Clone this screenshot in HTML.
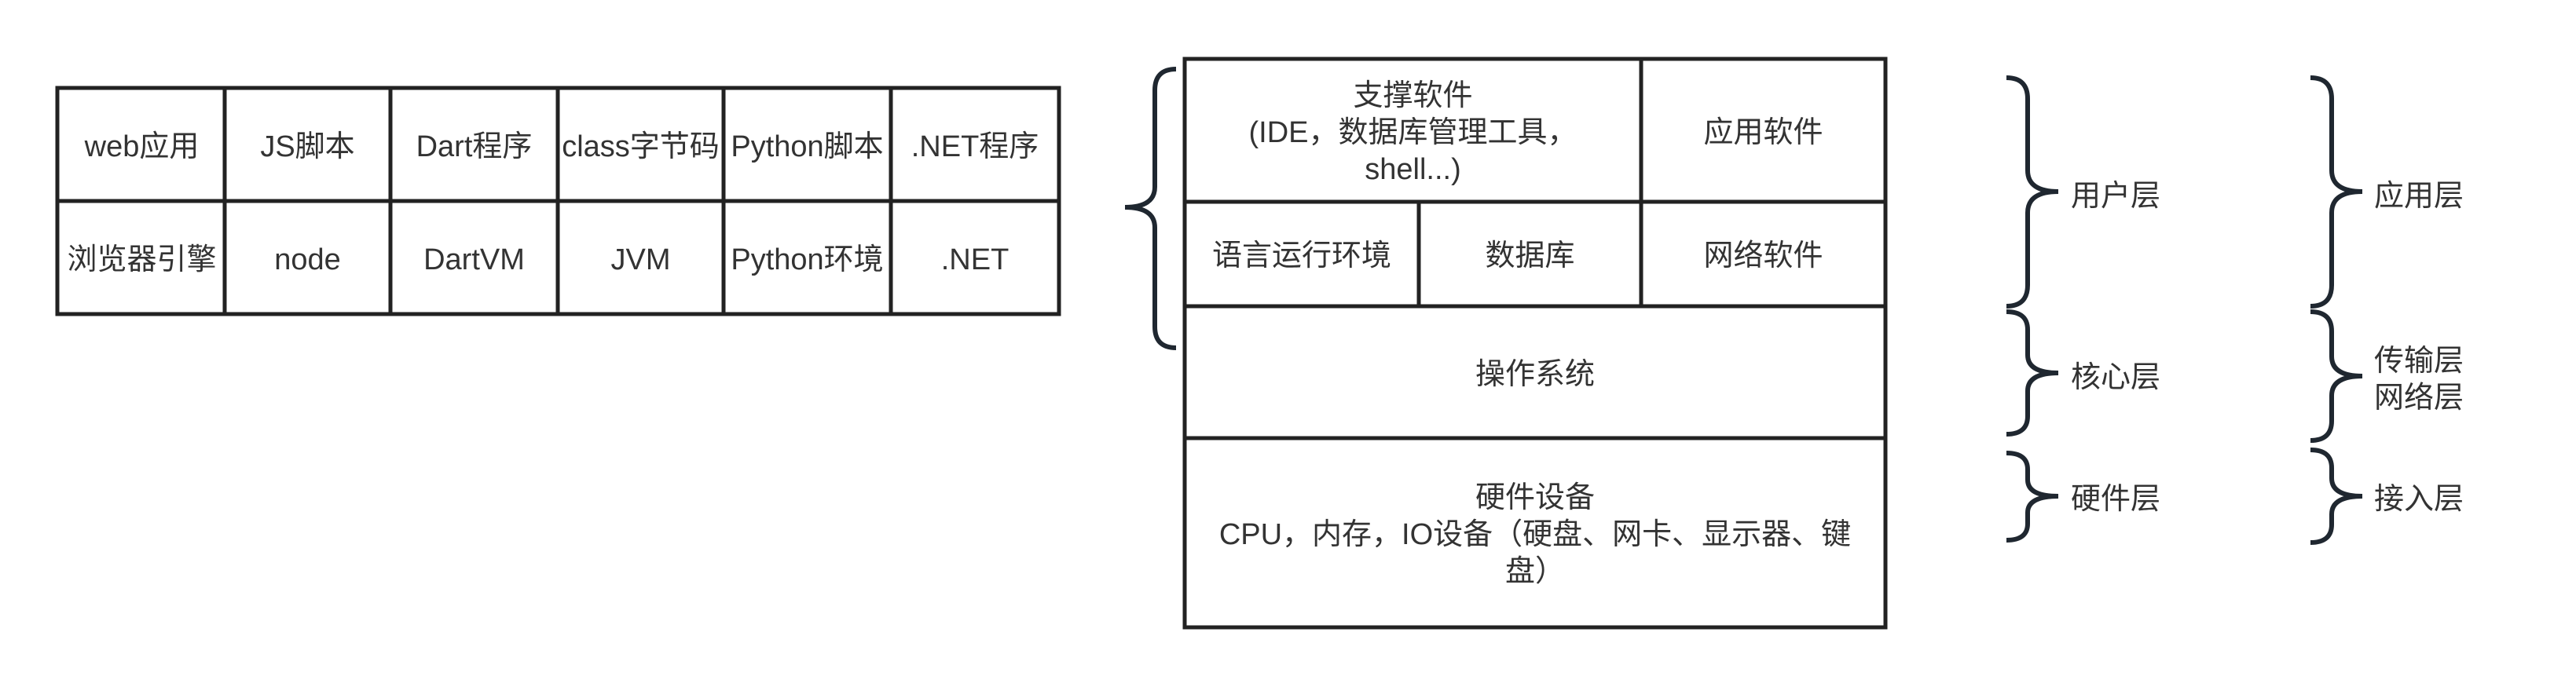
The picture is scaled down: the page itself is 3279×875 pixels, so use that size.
<!DOCTYPE html>
<html><head><meta charset="utf-8"><style>
html,body{margin:0;padding:0;background:#fff;}
#c{position:relative;width:3279px;height:875px;overflow:hidden;background:#fff;}
.t{position:absolute;display:flex;align-items:center;justify-content:center;text-align:center;font-family:"Liberation Sans","Noto Sans CJK SC",sans-serif;font-size:38px;color:#333;line-height:47px;padding-top:6px;box-sizing:border-box;}
svg{position:absolute;left:0;top:0;}
</style></head><body><div id="c">
<svg width="3279" height="875" viewBox="0 0 3279 875">
<g stroke="#222" stroke-width="5" fill="none">
<rect x="73" y="112" width="1275" height="288"/>
<line x1="73" y1="256" x2="1348" y2="256"/>
<line x1="286" y1="112" x2="286" y2="400"/>
<line x1="497" y1="112" x2="497" y2="400"/>
<line x1="710" y1="112" x2="710" y2="400"/>
<line x1="921" y1="112" x2="921" y2="400"/>
<line x1="1134" y1="112" x2="1134" y2="400"/>
<rect x="1508" y="75" width="892" height="724"/>
<line x1="1508" y1="257" x2="2400" y2="257"/>
<line x1="1508" y1="390" x2="2400" y2="390"/>
<line x1="1508" y1="558" x2="2400" y2="558"/>
<line x1="2089" y1="75" x2="2089" y2="390"/>
<line x1="1806" y1="257" x2="1806" y2="390"/>
</g>
<g stroke="#1f2730" stroke-width="6" fill="none" stroke-linecap="butt">
<path d="M1497 88 Q1470 88 1470 115 L1470 238 Q1470 264 1432 264 Q1470 264 1470 290 L1470 416 Q1470 443 1497 443"/>
<path d="M2554 99 Q2581 99 2581 126 L2581 217 Q2581 244 2620 244 Q2581 244 2581 271 L2581 363 Q2581 390 2554 390"/>
<path d="M2554 397 Q2581 397 2581 420 L2581 452 Q2581 475 2620 475 Q2581 475 2581 498 L2581 530 Q2581 553 2554 553"/>
<path d="M2554 577 Q2581 577 2581 598 L2581 611 Q2581 632 2620 632 Q2581 632 2581 653 L2581 667 Q2581 688 2554 688"/>
<path d="M2941 99 Q2968 99 2968 126 L2968 217 Q2968 244 3007 244 Q2968 244 2968 271 L2968 363 Q2968 390 2941 390"/>
<path d="M2941 397 Q2968 397 2968 422 L2968 454 Q2968 479 3007 479 Q2968 479 2968 504 L2968 536 Q2968 561 2941 561"/>
<path d="M2941 573 Q2968 573 2968 596 L2968 609 Q2968 632 3007 632 Q2968 632 2968 655 L2968 668 Q2968 691 2941 691"/>
</g>
</svg>
<div class="t" style="left:75px;top:112px;width:211px;height:144px">web应用</div>
<div class="t" style="left:286px;top:112px;width:211px;height:144px">JS脚本</div>
<div class="t" style="left:497px;top:112px;width:213px;height:144px">Dart程序</div>
<div class="t" style="left:710px;top:112px;width:211px;height:144px;white-space:nowrap">class字节码</div>
<div class="t" style="left:921px;top:112px;width:213px;height:144px;white-space:nowrap">Python脚本</div>
<div class="t" style="left:1134px;top:112px;width:214px;height:144px">.NET程序</div>
<div class="t" style="left:75px;top:256px;width:211px;height:144px;white-space:nowrap">浏览器引擎</div>
<div class="t" style="left:286px;top:256px;width:211px;height:144px">node</div>
<div class="t" style="left:497px;top:256px;width:213px;height:144px">DartVM</div>
<div class="t" style="left:710px;top:256px;width:211px;height:144px">JVM</div>
<div class="t" style="left:921px;top:256px;width:213px;height:144px;white-space:nowrap">Python环境</div>
<div class="t" style="left:1134px;top:256px;width:214px;height:144px">.NET</div>

<div class="t" style="left:1508px;top:75px;width:581px;height:182px">支撑软件<br>(IDE，数据库管理工具，<br>shell...)</div>
<div class="t" style="left:2089px;top:75px;width:311px;height:182px">应用软件</div>
<div class="t" style="left:1508px;top:257px;width:298px;height:133px">语言运行环境</div>
<div class="t" style="left:1806px;top:257px;width:283px;height:133px">数据库</div>
<div class="t" style="left:2089px;top:257px;width:311px;height:133px">网络软件</div>
<div class="t" style="left:1508px;top:390px;width:892px;height:168px">操作系统</div>
<div class="t" style="left:1540px;top:558px;width:828px;height:241px">硬件设备<br>CPU，内存，IO设备（硬盘、网卡、显示器、键盘）</div>

<div class="t" style="left:2636px;top:224px;width:130px;height:47px;justify-content:flex-start">用户层</div>
<div class="t" style="left:2636px;top:455px;width:130px;height:47px;justify-content:flex-start">核心层</div>
<div class="t" style="left:2636px;top:610px;width:130px;height:47px;justify-content:flex-start">硬件层</div>
<div class="t" style="left:3022px;top:224px;width:130px;height:47px;justify-content:flex-start">应用层</div>
<div class="t" style="left:3022px;top:434px;width:130px;height:94px;justify-content:flex-start;text-align:left">传输层<br>网络层</div>
<div class="t" style="left:3022px;top:610px;width:130px;height:47px;justify-content:flex-start">接入层</div>
</div></body></html>
